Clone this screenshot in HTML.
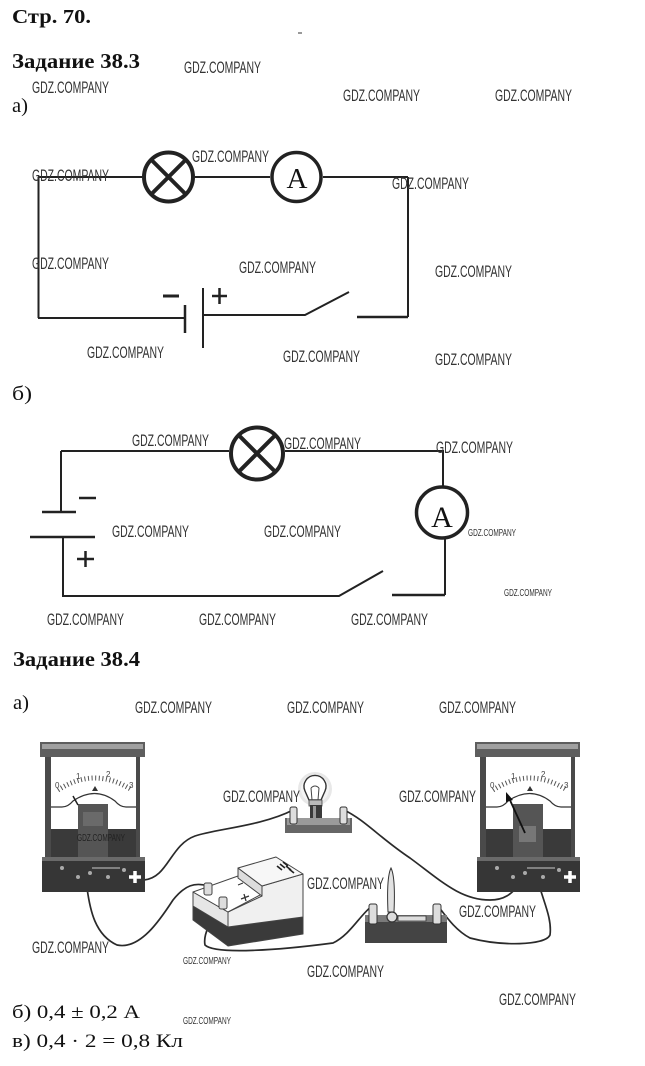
<!DOCTYPE html>
<html><head><meta charset="utf-8"><style>
html,body{margin:0;padding:0;background:#fff;}
svg{display:block;}
.w{font-family:"Liberation Sans",sans-serif;font-size:16.5px;fill:#333;}
.ws{font-family:"Liberation Sans",sans-serif;font-size:10px;fill:#333;}
.h{font-family:"Liberation Serif",serif;font-weight:bold;fill:#111;}
.t{font-family:"Liberation Serif",serif;fill:#111;}
.n{font-family:"Liberation Sans",sans-serif;font-size:8px;fill:#444;}
</style></head><body>
<svg width="645" height="1066" viewBox="0 0 645 1066" xmlns="http://www.w3.org/2000/svg">
<rect width="645" height="1066" fill="#fff"/>

<!-- headings -->
<text class="h" x="12" y="23" font-size="20" textLength="79" lengthAdjust="spacingAndGlyphs">Стр. 70.</text>
<line x1="298" y1="33" x2="302" y2="33" stroke="#333" stroke-width="1"/>
<text class="h" x="12" y="68" font-size="21" textLength="128" lengthAdjust="spacingAndGlyphs">Задание 38.3</text>
<text class="t" x="12" y="112" font-size="20" textLength="16" lengthAdjust="spacingAndGlyphs">а)</text>
<text class="t" x="12" y="400" font-size="20" textLength="20" lengthAdjust="spacingAndGlyphs">б)</text>
<text class="h" x="13" y="666" font-size="21" textLength="127" lengthAdjust="spacingAndGlyphs">Задание 38.4</text>
<text class="t" x="13" y="709" font-size="20" textLength="16" lengthAdjust="spacingAndGlyphs">а)</text>
<text class="t" x="12" y="1018" font-size="19" textLength="128" lengthAdjust="spacingAndGlyphs">б) 0,4 ± 0,2 А</text>
<text class="t" x="12" y="1047" font-size="19" textLength="171" lengthAdjust="spacingAndGlyphs">в) 0,4 · 2 = 0,8 Кл</text>

<!-- circuit a -->
<g stroke="#222" fill="none" stroke-width="2">
  <path d="M38 177 H142 M195 177 H270 M323 177 H408"/>
  <path d="M38.5 177 V318 M38 318 H185"/>
  <path d="M185 305 V333" stroke-width="2.5"/>
  <path d="M203 288 V348"/>
  <path d="M203 315 H305 L349 292"/>
  <path d="M357 317 H408" stroke-width="2.5"/>
  <path d="M408 177 V317"/>
  <circle cx="168.5" cy="177" r="24.5" stroke-width="4"/>
  <path d="M151 159.5 L186 194.5 M186 159.5 L151 194.5" stroke-width="4"/>
  <circle cx="296.5" cy="177" r="24.5" stroke-width="3.5"/>
  <path d="M163 296 H179" stroke-width="3"/>
  <path d="M212 296 H227 M219.5 288 V304" stroke-width="2.5"/>
</g>
<text class="t" x="297" y="188" font-size="29" text-anchor="middle">A</text>

<!-- circuit b -->
<g stroke="#222" fill="none" stroke-width="2">
  <path d="M61 451 H229 M285 451 H443 V487"/>
  <path d="M61 451 V512"/>
  <path d="M42 512 H76" stroke-width="2.5"/>
  <path d="M30 537 H95" stroke-width="2.5"/>
  <path d="M79 498 H96" stroke-width="2.5"/>
  <path d="M77 559 H94 M85.5 551 V567" stroke-width="2.5"/>
  <path d="M63 537 V596 H339 L383 571"/>
  <path d="M392 595 H445" stroke-width="2.5"/>
  <path d="M445 595 V538"/>
  <circle cx="442" cy="512.5" r="25.5" stroke-width="3.5"/>
  <circle cx="257" cy="453.5" r="26" stroke-width="4"/>
  <path d="M238.6 435.1 L275.4 471.9 M275.4 435.1 L238.6 471.9" stroke-width="4"/>
</g>
<text class="t" x="442" y="527" font-size="30" text-anchor="middle">A</text>

<!-- wires of photo (behind devices) -->
<g stroke="#2a2a2a" stroke-width="1.7" fill="none">
  <path d="M144 880 C168 878 170 845 195 836 C215 829 262 826 293 810"/>
  <path d="M344 810 C365 820 380 838 410 858 C440 880 460 900 490 900 C505 900 512 893 517 887"/>
  <path d="M540 888 C545 905 552 920 550 935 C545 946 500 946 470 938 C455 930 445 915 438 906"/>
  <path d="M87 888 C90 910 95 935 117 945 C140 950 160 920 173 900 C185 885 195 882 208 886"/>
  <path d="M222 906 C210 920 203 935 205 945 C215 955 280 950 333 943 C350 935 360 915 372 906"/>
</g>

<!-- left meter -->
<g id="m1">
  <rect x="40" y="742" width="105" height="15" fill="#5e5e5e"/>
  <rect x="42" y="744" width="101" height="5" fill="#a0a0a0"/>
  <rect x="45" y="757" width="95" height="101" fill="#4a4a4a"/>
  <rect x="51" y="757" width="85" height="72" fill="#fff"/>
  <path d="M58 790 Q95 766 132 790" stroke="#555" stroke-width="5" stroke-dasharray="1 2.6" fill="none"/>
  <path d="M51 807 H62 Q68 807 73 801 Q95 786 115 801 Q120 807 126 807 H136" stroke="#333" stroke-width="1.3" fill="none"/>
  <path d="M92 791 L95 786 L98 791 Z" fill="#333"/>
  <text class="n" x="55" y="788">0</text>
  <text class="n" x="76" y="779">1</text>
  <text class="n" x="106" y="777">2</text>
  <text class="n" x="129" y="788">3</text>
  <rect x="51" y="829" width="85" height="28" fill="#3a3a3a"/>
  <rect x="78" y="804" width="30" height="53" fill="#555"/>
  <rect x="83" y="812" width="20" height="14" fill="#6a6a6a"/>
  <rect x="42" y="857" width="103" height="35" fill="#363636"/>
  <rect x="42" y="857" width="103" height="4" fill="#6a6a6a"/>
  <g fill="#aaa">
    <circle cx="62" cy="868" r="2"/><circle cx="78" cy="877" r="2"/><circle cx="90" cy="873" r="2"/>
    <circle cx="108" cy="877" r="2"/><circle cx="124" cy="870" r="2"/>
  </g>
  <path d="M92 868 H120" stroke="#999" stroke-width="1.5"/>
  <path d="M129 877 H141 M135 871 V883" stroke="#fff" stroke-width="3.5"/>
</g>
<path d="M78 805 L73 796" stroke="#222" stroke-width="1.5"/>

<!-- right meter -->
<g transform="translate(435,0)">
  <rect x="40" y="742" width="105" height="15" fill="#5e5e5e"/>
  <rect x="42" y="744" width="101" height="5" fill="#a0a0a0"/>
  <rect x="45" y="757" width="95" height="101" fill="#4a4a4a"/>
  <rect x="51" y="757" width="85" height="72" fill="#fff"/>
  <path d="M58 790 Q95 766 132 790" stroke="#555" stroke-width="5" stroke-dasharray="1 2.6" fill="none"/>
  <path d="M51 807 H62 Q68 807 73 801 Q95 786 115 801 Q120 807 126 807 H136" stroke="#333" stroke-width="1.3" fill="none"/>
  <path d="M92 791 L95 786 L98 791 Z" fill="#333"/>
  <text class="n" x="55" y="788">0</text>
  <text class="n" x="76" y="779">1</text>
  <text class="n" x="106" y="777">2</text>
  <text class="n" x="129" y="788">3</text>
  <rect x="51" y="829" width="85" height="28" fill="#3a3a3a"/>
  <rect x="78" y="804" width="30" height="53" fill="#555"/>
  <rect x="84" y="826" width="17" height="16" fill="#777"/>
  <rect x="42" y="857" width="103" height="35" fill="#363636"/>
  <rect x="42" y="857" width="103" height="4" fill="#6a6a6a"/>
  <g fill="#aaa">
    <circle cx="62" cy="868" r="2"/><circle cx="78" cy="877" r="2"/><circle cx="90" cy="873" r="2"/>
    <circle cx="108" cy="877" r="2"/><circle cx="124" cy="870" r="2"/>
  </g>
  <path d="M92 868 H120" stroke="#999" stroke-width="1.5"/>
  <path d="M129 877 H141 M135 871 V883" stroke="#fff" stroke-width="3.5"/>
</g>
<path d="M525 833 L509 798" stroke="#111" stroke-width="1.8"/>
<path d="M506 792 L513 800 L506 802 Z" fill="#111"/>

<!-- bulb -->
<g>
  <circle cx="315" cy="789" r="17" fill="#e8e8e8"/>
  <circle cx="315" cy="789" r="14" fill="#f4f4f4"/>
  <path d="M305 791 A11 11 0 1 1 325 791 L321 800 H309 Z" fill="#fff" stroke="#333" stroke-width="1.4"/>
  <path d="M312 800 L311 788 M318 800 L319 788 M311 788 Q315 784 319 788" stroke="#444" stroke-width="1" fill="none"/>
  <rect x="309" y="800" width="13" height="6" fill="#bbb" stroke="#444" stroke-width="0.8"/>
  <rect x="310" y="805" width="12" height="16" fill="#3a3a3a"/>
  <rect x="313" y="806" width="3" height="13" fill="#999"/>
  <path d="M285 818 H352 V833 H285 Z" fill="#666"/>
  <path d="M287 818 H350 V825 H287 Z" fill="#9a9a9a"/>
  <rect x="290" y="807" width="7" height="17" rx="2" fill="#ddd" stroke="#333" stroke-width="1"/>
  <rect x="340" y="807" width="7" height="17" rx="2" fill="#ddd" stroke="#333" stroke-width="1"/>
</g>

<!-- battery box -->
<g stroke="#444" stroke-width="1" stroke-linejoin="round">
  <polygon points="193,905 228,926 303,916 303,934 228,946 193,920" fill="#3a3a3a"/>
  <polygon points="193,892 228,912 228,927 193,906" fill="#e6e6e6"/>
  <polygon points="228,912 262,896 262,886 303,874 303,917 228,927" fill="#f0f0f0"/>
  <polygon points="193,892 238,876 262,894 228,912" fill="#fff"/>
  <polygon points="238,868 262,886 262,896 238,878" fill="#ddd"/>
  <polygon points="238,868 276,857 303,874 262,886" fill="#f7f7f7"/>
  <path d="M277 866 L282 870 M280 864 L285 868 M283 862 L288 866 M286 866 L291 870 M289 869 L294 873" stroke="#222" stroke-width="1.6"/>
  <rect x="204" y="883" width="8" height="12" rx="2" fill="#ddd"/>
  <rect x="219" y="897" width="8" height="12" rx="2" fill="#ddd"/>
  <path d="M238 885 L243 883" stroke="#333"/>
  <path d="M241 899 L249 896 M244 894 L246 901" stroke="#333" stroke-width="1.3"/>
</g>

<!-- knife switch -->
<g>
  <rect x="365" y="915" width="82" height="28" fill="#444"/>
  <rect x="365" y="915" width="82" height="7" fill="#7a7a7a"/>
  <rect x="369" y="904" width="8" height="20" rx="2" fill="#ddd" stroke="#333" stroke-width="1"/>
  <rect x="433" y="904" width="8" height="20" rx="2" fill="#ddd" stroke="#333" stroke-width="1"/>
  <path d="M398 916 H426 V921 H398 Z" fill="#ddd" stroke="#333" stroke-width="0.8"/>
  <path d="M391 868 C394 874 395 890 394 912 H388 C387 890 388 874 391 868 Z" fill="#e2e2e2" stroke="#333" stroke-width="1"/>
  <circle cx="392" cy="917" r="5" fill="#ddd" stroke="#333" stroke-width="1.2"/>
</g>

<!-- watermarks large -->
<g>
<text class="w" x="184" y="73" textLength="77" lengthAdjust="spacingAndGlyphs">GDZ.COMPANY</text>
<text class="w" x="32" y="93" textLength="77" lengthAdjust="spacingAndGlyphs">GDZ.COMPANY</text>
<text class="w" x="343" y="101" textLength="77" lengthAdjust="spacingAndGlyphs">GDZ.COMPANY</text>
<text class="w" x="495" y="101" textLength="77" lengthAdjust="spacingAndGlyphs">GDZ.COMPANY</text>
<text class="w" x="192" y="162" textLength="77" lengthAdjust="spacingAndGlyphs">GDZ.COMPANY</text>
<text class="w" x="32" y="181" textLength="77" lengthAdjust="spacingAndGlyphs">GDZ.COMPANY</text>
<text class="w" x="392" y="189" textLength="77" lengthAdjust="spacingAndGlyphs">GDZ.COMPANY</text>
<text class="w" x="32" y="269" textLength="77" lengthAdjust="spacingAndGlyphs">GDZ.COMPANY</text>
<text class="w" x="239" y="273" textLength="77" lengthAdjust="spacingAndGlyphs">GDZ.COMPANY</text>
<text class="w" x="435" y="277" textLength="77" lengthAdjust="spacingAndGlyphs">GDZ.COMPANY</text>
<text class="w" x="87" y="358" textLength="77" lengthAdjust="spacingAndGlyphs">GDZ.COMPANY</text>
<text class="w" x="283" y="362" textLength="77" lengthAdjust="spacingAndGlyphs">GDZ.COMPANY</text>
<text class="w" x="435" y="365" textLength="77" lengthAdjust="spacingAndGlyphs">GDZ.COMPANY</text>
<text class="w" x="132" y="446" textLength="77" lengthAdjust="spacingAndGlyphs">GDZ.COMPANY</text>
<text class="w" x="284" y="449" textLength="77" lengthAdjust="spacingAndGlyphs">GDZ.COMPANY</text>
<text class="w" x="436" y="453" textLength="77" lengthAdjust="spacingAndGlyphs">GDZ.COMPANY</text>
<text class="w" x="112" y="537" textLength="77" lengthAdjust="spacingAndGlyphs">GDZ.COMPANY</text>
<text class="w" x="264" y="537" textLength="77" lengthAdjust="spacingAndGlyphs">GDZ.COMPANY</text>
<text class="w" x="47" y="625" textLength="77" lengthAdjust="spacingAndGlyphs">GDZ.COMPANY</text>
<text class="w" x="199" y="625" textLength="77" lengthAdjust="spacingAndGlyphs">GDZ.COMPANY</text>
<text class="w" x="351" y="625" textLength="77" lengthAdjust="spacingAndGlyphs">GDZ.COMPANY</text>
<text class="w" x="135" y="713" textLength="77" lengthAdjust="spacingAndGlyphs">GDZ.COMPANY</text>
<text class="w" x="287" y="713" textLength="77" lengthAdjust="spacingAndGlyphs">GDZ.COMPANY</text>
<text class="w" x="439" y="713" textLength="77" lengthAdjust="spacingAndGlyphs">GDZ.COMPANY</text>
<text class="w" x="223" y="802" textLength="77" lengthAdjust="spacingAndGlyphs">GDZ.COMPANY</text>
<text class="w" x="399" y="802" textLength="77" lengthAdjust="spacingAndGlyphs">GDZ.COMPANY</text>
<text class="w" x="307" y="889" textLength="77" lengthAdjust="spacingAndGlyphs">GDZ.COMPANY</text>
<text class="w" x="459" y="917" textLength="77" lengthAdjust="spacingAndGlyphs">GDZ.COMPANY</text>
<text class="w" x="32" y="953" textLength="77" lengthAdjust="spacingAndGlyphs">GDZ.COMPANY</text>
<text class="w" x="307" y="977" textLength="77" lengthAdjust="spacingAndGlyphs">GDZ.COMPANY</text>
<text class="w" x="499" y="1005" textLength="77" lengthAdjust="spacingAndGlyphs">GDZ.COMPANY</text>
</g>
<!-- watermarks small -->
<g>
<text class="ws" x="468" y="536" textLength="48" lengthAdjust="spacingAndGlyphs">GDZ.COMPANY</text>
<text class="ws" x="504" y="596" textLength="48" lengthAdjust="spacingAndGlyphs">GDZ.COMPANY</text>
<text class="ws" x="77" y="841" textLength="48" lengthAdjust="spacingAndGlyphs" style="fill:#222">GDZ.COMPANY</text>
<text class="ws" x="183" y="964" textLength="48" lengthAdjust="spacingAndGlyphs">GDZ.COMPANY</text>
<text class="ws" x="183" y="1024" textLength="48" lengthAdjust="spacingAndGlyphs">GDZ.COMPANY</text>
</g>
</svg>
</body></html>
